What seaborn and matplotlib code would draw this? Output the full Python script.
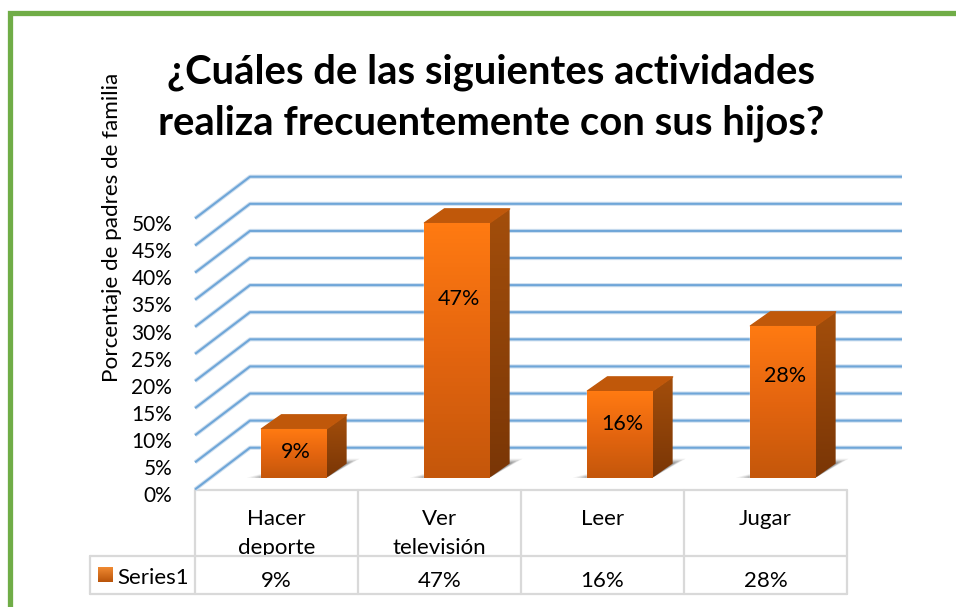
import numpy as np
import pandas as pd
import matplotlib
matplotlib.use("Agg")
import matplotlib.pyplot as plt
from matplotlib.colors import LinearSegmentedColormap
from matplotlib.patches import Polygon, Rectangle
from matplotlib.transforms import ScaledTranslation
import seaborn as sns

# --- Data ---
categories = ["Hacer\ndeporte", "Ver\ntelevisión", "Leer", "Jugar"]
values = [9, 47, 16, 28]
y_ticks = [0, 5, 10, 15, 20, 25, 30, 35, 40, 45, 50]
series_name = "Series1"
title = "¿Cuáles de las siguientes actividades\nrealiza frecuentemente con sus hijos?"
y_label = "Porcentaje de padres de familia"

# --- Constants ---
W, H = 956, 607
BAR_DX, BAR_DY = 0.123, 2.6        # depth of one bar, data units
BACK_DX, BACK_DY = 0.23, 5.53      # bar plane -> back wall
FRONT_DX, FRONT_DY = -0.107, -2.16 # bar plane -> front edge of floor
GRID_LIGHT = "#cfe0f0"
GRID_DARK = "#6fa6d8"
TABLE_GREY = "#d9d9d9"

front_cmap = LinearSegmentedColormap.from_list("front", ["#c4570b", "#e4650f", "#ff7a12"])
side_cmap = LinearSegmentedColormap.from_list("side", ["#7a3606", "#a34e0b"])
top_cmap = LinearSegmentedColormap.from_list("top", ["#c85c0b", "#b9540a"])
gradient = np.linspace(0, 1, 64).reshape(-1, 1)

sns.set_theme(style="white")
plt.rcParams["font.family"] = ["Lato", "DejaVu Sans"]

fig = plt.figure(figsize=(W / 100, H / 100), dpi=100, facecolor="white")

# background layer in pixel coordinates: frame and table
bg = fig.add_axes([0, 0, 1, 1], zorder=0)
bg.set_xlim(0, W)
bg.set_ylim(H, 0)
bg.axis("off")

ax = fig.add_axes([212.5 / W, (H - 477.7) / H, 652 / W, 271 / H], zorder=1)
ax.patch.set_alpha(0)

df = pd.DataFrame({"Actividad": categories, "Porcentaje": values})
sns.barplot(data=df, x="Actividad", y="Porcentaje", color="#e4650f", width=0.4,
            saturation=1, ax=ax, zorder=2)
ax.set_xlim(-0.5, 3.5)
ax.set_ylim(0, 50)
sns.despine(ax=ax, left=True, bottom=True)

# back wall grid and the diagonals running to the front edge
for t in y_ticks:
    xs = [-0.5 + FRONT_DX, -0.5 + BACK_DX, 3.5 + BACK_DX]
    ys = [t + FRONT_DY, t + BACK_DY, t + BACK_DY]
    ax.plot(xs, ys, color=GRID_LIGHT, lw=3.0, clip_on=False, zorder=1, solid_capstyle="butt")
    ax.plot(xs, ys, color=GRID_DARK, lw=1.5, clip_on=False, zorder=1.1, solid_capstyle="butt")

# 3d look on top of each seaborn bar
for bar, v in zip(ax.patches, values):
    x0, x1 = bar.get_x(), bar.get_x() + bar.get_width()

    # floor shadow
    for grow, alpha in [(1.0, 0.10), (0.75, 0.16), (0.5, 0.24), (0.25, 0.30)]:
        shadow = Polygon([(x0 - 0.09 * grow, 0), (x1, 0),
                          (x1 + BAR_DX + 0.08 * grow, BAR_DY + 0.9 * grow),
                          (x0 + BAR_DX, BAR_DY + 0.9 * grow),
                          (x0, 0.7 * grow)],
                         closed=True, facecolor="#555555", edgecolor="none", alpha=alpha,
                         clip_on=False, zorder=1.5)
        ax.add_patch(shadow)

    im = ax.imshow(gradient, extent=(x0, x1, 0, v), origin="lower", cmap=front_cmap,
                   aspect="auto", zorder=3.2)
    im.set_clip_on(False)

    side = Polygon([(x1, 0), (x1 + BAR_DX, BAR_DY), (x1 + BAR_DX, v + BAR_DY), (x1, v)],
                   closed=True, facecolor="none", edgecolor="none", clip_on=False)
    ax.add_patch(side)
    im = ax.imshow(gradient, extent=(x1, x1 + BAR_DX, 0, v + BAR_DY), origin="lower",
                   cmap=side_cmap, aspect="auto", zorder=3)
    im.set_clip_path(side)

    top = Polygon([(x0, v), (x1, v), (x1 + BAR_DX, v + BAR_DY), (x0 + BAR_DX, v + BAR_DY)],
                  closed=True, facecolor=top_cmap(0.5), edgecolor=top_cmap(0.5), lw=1,
                  joinstyle="round", clip_on=False, zorder=3.1)
    ax.add_patch(top)

    # value label sits above the middle of the bar in the original
    ax.text((x0 + x1) / 2 + 0.012, v * 0.74 - 1.9, f"{v}%", ha="center", va="center",
            fontsize=15.5, color="black", zorder=4)

ax.set_xlim(-0.5, 3.5)
ax.set_ylim(0, 50)

# axis text
ax.set_xticks([])
ax.set_xlabel("")
ax.set_ylabel("")
ax.set_yticks(y_ticks)
ax.set_yticklabels([f"{t}%" for t in y_ticks], fontsize=15, color="black")
ax.tick_params(axis="y", length=0, pad=29)
shift = ScaledTranslation(0, -16.5 / 100, fig.dpi_scale_trans)
for lab in ax.get_yticklabels():
    lab.set_transform(lab.get_transform() + shift)

# frame
bg.add_patch(Rectangle((10.5, 12.5), W + 20, H + 20, facecolor="white", edgecolor="#70ad47", lw=3.8))

fig.text(491 / W, 1 - 98 / H, title, ha="center", va="center", fontsize=28.8, fontweight="bold",
         color="black", linespacing=1.45)
fig.text(112 / W, 1 - 227 / H, y_label, rotation=90, ha="center", va="center",
         fontsize=16.2, color="black")

# data table below the chart
col_x = [195, 358, 521, 684, 847]
row_y = [490, 556, 594]
for i, name in enumerate(categories):
    cx = (col_x[i] + col_x[i + 1]) / 2
    bg.text(cx, 509, name, ha="center", va="top", fontsize=16, color="black", linespacing=1.55, zorder=2)
    bg.text(cx, 581, f"{values[i]}%", ha="center", va="center", fontsize=16, color="black", zorder=2)
bg.add_patch(Rectangle((190, 556), 670, 12, facecolor="white", edgecolor="none", zorder=3))
bg.text(117, 578, series_name, ha="left", va="center", fontsize=16, color="black", zorder=4)
for cx in col_x:
    bg.plot([cx, cx], [row_y[0], row_y[2]], color=TABLE_GREY, lw=1.6, zorder=5)
bg.plot([90, 90], [row_y[1], row_y[2]], color=TABLE_GREY, lw=1.6, zorder=5)
bg.plot([195, 847], [row_y[0], row_y[0]], color=TABLE_GREY, lw=1.6, zorder=5)
bg.plot([90, 847], [row_y[1], row_y[1]], color=TABLE_GREY, lw=1.6, zorder=5)
bg.plot([90, 847], [row_y[2], row_y[2]], color=TABLE_GREY, lw=1.6, zorder=5)

# legend key
bg.imshow(gradient, extent=(98, 113, 582, 567), origin="upper", cmap=LinearSegmentedColormap.from_list(
    "key", ["#f08a32", "#b9540a"]), aspect="auto", zorder=4)
bg.set_xlim(0, W)
bg.set_ylim(H, 0)

fig.savefig("out.png", dpi=100)
